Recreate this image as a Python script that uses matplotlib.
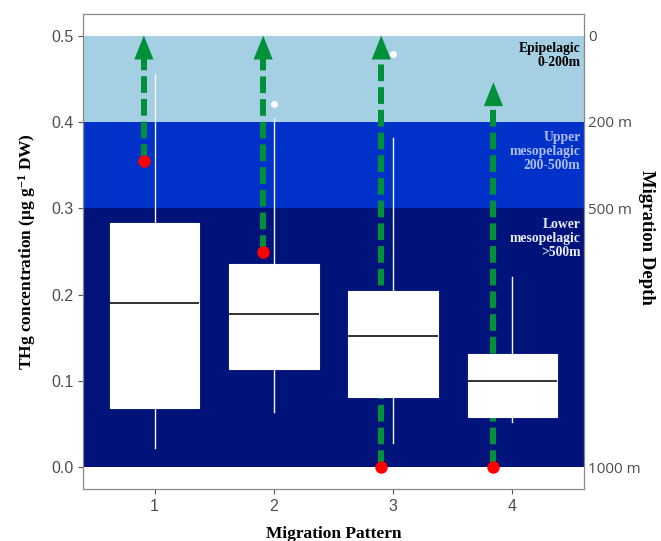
import numpy as np
import matplotlib.pyplot as plt

# box summaries
patterns = [1, 2, 3, 4]
q1 = [0.069, 0.114, 0.081, 0.058]
med = [0.190, 0.178, 0.152, 0.100]
q3 = [0.283, 0.235, 0.204, 0.131]
whislo = [0.023, 0.064, 0.028, 0.053]
whishi = [0.455, 0.405, 0.382, 0.220]
fliers = [[], [0.421], [0.479], []]

# migration arrows (start = red dot, end = arrow tip)
arrow_x = [0.91, 1.91, 2.90, 3.84]
arrow_start = [0.355, 0.250, 0.001, 0.001]
arrow_end = [0.500, 0.500, 0.500, 0.446]

# depth bands
bands = [(0.4, 0.5, '#a5cfe3'), (0.3, 0.4, '#0031c9'), (0.0, 0.3, '#00137a')]
band_text = ['Epipelagic\n0-200m', 'Upper\nmesopelagic\n200-500m', 'Lower\nmesopelagic\n>500m']
band_text_y = [0.493, 0.390, 0.289]
band_text_col = ['black', '#aebdf0', '#e8ebf8']

depth_ticks = [0.5, 0.4, 0.3, 0.0]
depth_labels = ['0', '200 m', '500 m', '1000 m']

plt.rcParams['mathtext.default'] = 'regular'

fig = plt.figure(figsize=(6.61, 5.41), dpi=100)
ax = fig.add_axes([0.1256, 0.0961, 0.758, 0.878])
ax.set_xlim(0.4, 4.6)
ax.set_ylim(-0.025, 0.525)

for lo, hi, c in bands:
    ax.axhspan(lo, hi, color=c, lw=0, zorder=0)

green = '#00903a'
head = 0.0195
for x, s, e in zip(arrow_x, arrow_start, arrow_end):
    ax.plot([x, x], [s, e - head], color=green, lw=4.3, dashes=(2.8, 1.0),
            solid_capstyle='butt', dash_capstyle='butt', zorder=1)
    ax.annotate('', xy=(x, e), xytext=(x, e - head),
                arrowprops=dict(arrowstyle='-|>,head_length=0.85,head_width=0.34',
                                color=green, lw=0.1, shrinkA=0, shrinkB=0,
                                mutation_scale=20), zorder=1)
    ax.plot(x, s, 'o', color='#ff0000', ms=9, mew=0, zorder=1.5)

stats = []
for i in range(4):
    stats.append(dict(med=med[i], q1=q1[i], q3=q3[i], whislo=whislo[i],
                      whishi=whishi[i], fliers=fliers[i]))
bp = ax.bxp(stats, positions=patterns, widths=0.75, patch_artist=True, showcaps=False,
            boxprops=dict(facecolor='white', edgecolor='white', lw=0.8),
            whiskerprops=dict(color='#f4f4fa', lw=1.0),
            medianprops=dict(color='#333333', lw=1.4),
            flierprops=dict(marker='o', mfc='white', mec='white', ms=4))
for b in bp['boxes']:
    b.set_zorder(3)
for w in bp['whiskers'] + bp['fliers']:
    w.set_zorder(3)
for m in bp['medians']:
    m.set_zorder(4)

for t, y, c in zip(band_text, band_text_y, band_text_col):
    ax.text(4.57, y, t, ha='right', va='top', color=c, fontsize=9.8,
            fontfamily='Liberation Serif', fontweight='bold', linespacing=1.1, zorder=5)

ax.set_xticks(patterns)
ax.set_xticklabels([str(p) for p in patterns], fontfamily='Liberation Sans')
ax.set_yticks([0.0, 0.1, 0.2, 0.3, 0.4, 0.5])
ax.set_yticklabels(['0.0', '0.1', '0.2', '0.3', '0.4', '0.5'], fontfamily='Liberation Sans')
ax.tick_params(colors='#555555', labelcolor='#4d4d4d', labelsize=11.5, length=3.5, width=0.8)
for sp in ax.spines.values():
    sp.set_color('#888888')
    sp.set_linewidth(0.9)

ax.set_xlabel('Migration Pattern', fontfamily='Liberation Serif', fontweight='bold',
              fontsize=12.5, labelpad=9)
ax.set_ylabel('THg concentration (μg g$^{-1}$ DW)', fontfamily='Liberation Serif',
              fontweight='bold', fontsize=12.5, labelpad=9)

ax2 = ax.twinx()
ax2.set_ylim(ax.get_ylim())
ax2.set_yticks(depth_ticks)
ax2.set_yticklabels(depth_labels, fontfamily='Open Sans')
ax2.tick_params(length=0, labelsize=11, labelcolor='#4d4d4d', pad=3)
for sp in ax2.spines.values():
    sp.set_visible(False)
ax2.set_ylabel('Migration Depth', rotation=-90, fontfamily='Liberation Serif',
               fontweight='bold', fontsize=13.5, va='center', ha='center')
ax2.yaxis.set_label_coords(1.125, 0.53)

fig.savefig('out.png', dpi=100)
